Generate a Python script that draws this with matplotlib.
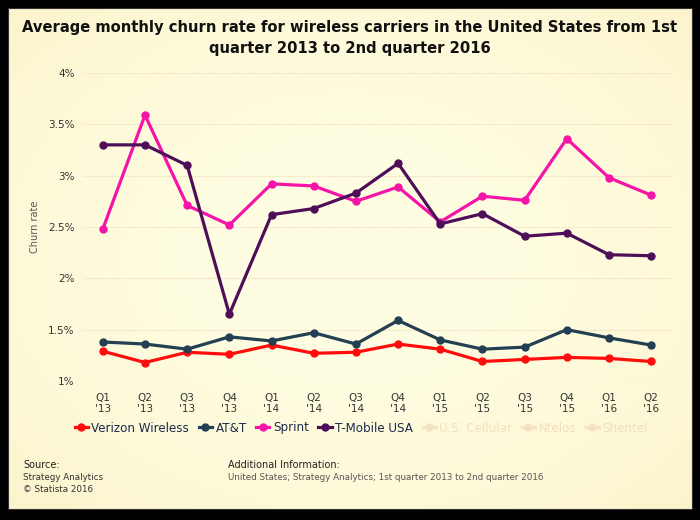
import numpy as np
import matplotlib
matplotlib.use("Agg")
import matplotlib.pyplot as plt
from matplotlib.lines import Line2D
from matplotlib.patches import Rectangle
from matplotlib.ticker import FuncFormatter

quarters = ["Q1\n'13", "Q2\n'13", "Q3\n'13", "Q4\n'13", "Q1\n'14", "Q2\n'14", "Q3\n'14",
            "Q4\n'14", "Q1\n'15", "Q2\n'15", "Q3\n'15", "Q4\n'15", "Q1\n'16", "Q2\n'16"]
verizon = [1.29, 1.18, 1.28, 1.26, 1.35, 1.27, 1.28, 1.36, 1.31, 1.19, 1.21, 1.23, 1.22, 1.19]
att = [1.38, 1.36, 1.31, 1.43, 1.39, 1.47, 1.36, 1.59, 1.40, 1.31, 1.33, 1.50, 1.42, 1.35]
sprint = [2.48, 3.59, 2.71, 2.52, 2.92, 2.90, 2.75, 2.89, 2.55, 2.80, 2.76, 3.36, 2.98, 2.81]
tmobile = [3.30, 3.30, 3.10, 1.65, 2.62, 2.68, 2.83, 3.12, 2.53, 2.63, 2.41, 2.44, 2.23, 2.22]
y_ticks = [1, 1.5, 2, 2.5, 3, 3.5, 4]

series = [
    ("Verizon Wireless", verizon, "#ff0d0d"),
    ("AT&T", att, "#233f52"),
    ("Sprint", sprint, "#f514a8"),
    ("T-Mobile USA", tmobile, "#4e0f58"),
]
hidden = ["U.S. Cellular", "Ntelos", "Shentel"]

W, H = 700, 520
fig = plt.figure(figsize=(7, 5.2), dpi=100, facecolor="black")

# cream panel with soft vignette
bg = fig.add_axes([8 / W, 1 - 509 / H, 684 / W, 501 / H])
yy, xx = np.mgrid[-1:1:200j, -1:1:260j]
r = np.sqrt(xx ** 2 + yy ** 2) / np.sqrt(2)
c_in = np.array([1.0, 0.995, 0.89])
c_out = np.array([0.985, 0.955, 0.80])
img = c_in[None, None, :] * (1 - r[..., None] ** 2) + c_out[None, None, :] * r[..., None] ** 2
bg.imshow(img, aspect="auto", extent=[0, 1, 0, 1])
bg.set_axis_off()
fig.patches.append(Rectangle((8 / W, 1 - 509 / H), 684 / W, 501 / H, transform=fig.transFigure,
                             fill=False, edgecolor="#333333", linewidth=0.8))

ax = fig.add_axes([83 / W, 1 - 381 / H, 588 / W, 308 / H])
ax.patch.set_alpha(0)
x = np.arange(len(quarters))
for name, vals, col in series:
    ax.plot(x, vals, color=col, linewidth=2.3, marker="o", markersize=5, clip_on=False, zorder=3)

ax.set_xlim(-0.47, len(quarters) - 1 + 0.47)
ax.set_ylim(1, 4)
ax.set_yticks(y_ticks)
ax.yaxis.set_major_formatter(FuncFormatter(lambda v, p: f"{v:g}%"))
ax.set_xticks(x)
ax.set_xticklabels(quarters, fontsize=7.5, color="#333333", linespacing=1.1)
ax.tick_params(axis="y", labelsize=7.5, labelcolor="#333333", length=0, pad=6)
ax.tick_params(axis="x", length=0, pad=9)
ax.grid(axis="y", color="#f0d8b8", linestyle=(0, (1, 1)), linewidth=0.8)
for s in ax.spines.values():
    s.set_visible(False)
ax.set_ylabel("Churn rate", fontsize=7, color="#555555", labelpad=6)

# legend
handles = [Line2D([], [], color=c, linewidth=2.3, marker="o", markersize=5) for _, _, c in series]
labels = [n for n, _, _ in series]
handles += [Line2D([], [], color="#f6e2c2", linewidth=2.3, marker="o", markersize=5) for _ in hidden]
labels += hidden
leg = fig.legend(handles, labels, loc="center left", bbox_to_anchor=(64 / W, 1 - 428 / H), ncol=7,
                 frameon=False, fontsize=8.6, handlelength=1.1, handletextpad=0.3, columnspacing=0.8)
for t in leg.get_texts()[4:]:
    t.set_color("#f3dfc0")
for t in leg.get_texts()[:4]:
    t.set_color("#1a2a4a")

fig.text(0.5, 1 - 38 / H,
         "Average monthly churn rate for wireless carriers in the United States from 1st\nquarter 2013 to 2nd quarter 2016",
         ha="center", va="center", fontsize=10.6, fontweight="bold", color="#111111", linespacing=1.55)

fig.text(23 / W, 1 - 465 / H, "Source:", fontsize=7, color="#222222", va="center")
fig.text(23 / W, 1 - 477 / H, "Strategy Analytics", fontsize=6.3, color="#333333", va="center")
fig.text(23 / W, 1 - 489 / H, "© Statista 2016", fontsize=6.3, color="#333333", va="center")
fig.text(228 / W, 1 - 465 / H, "Additional Information:", fontsize=7, color="#222222", va="center")
fig.text(228 / W, 1 - 477 / H, "United States; Strategy Analytics; 1st quarter 2013 to 2nd quarter 2016",
         fontsize=6.3, color="#555555", va="center")

fig.savefig("out.png", dpi=100, facecolor=fig.get_facecolor())
